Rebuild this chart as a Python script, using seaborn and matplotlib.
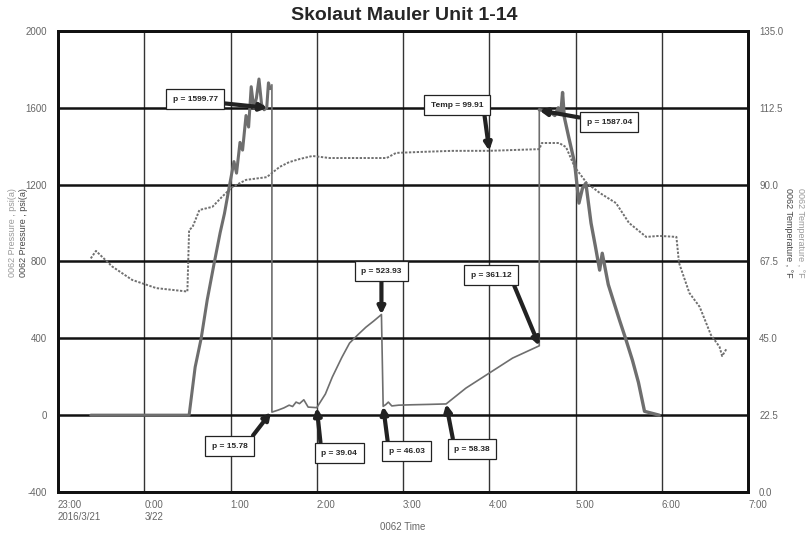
import matplotlib
matplotlib.use('Agg')
import matplotlib.pyplot as plt
import seaborn as sns

# time in hours after 0:00 on 2016/3/22 (23:00 of 3/21 = -1)
p_up_t = [-0.62, 0.52, 0.59, 0.66, 0.73, 0.81, 0.88, 0.93, 0.99, 1.04, 1.07, 1.11, 1.14,
          1.18, 1.21, 1.24, 1.27, 1.30, 1.33, 1.36, 1.39, 1.42, 1.44, 1.46]
p_up_v = [0, 0, 250, 400, 600, 790, 950, 1050, 1200, 1320, 1260, 1420, 1380,
          1560, 1500, 1710, 1600, 1650, 1750, 1620, 1590, 1600, 1730, 1700]

p_mid_t = [1.48, 1.48, 1.55, 1.62, 1.68, 1.72, 1.76, 1.80, 1.85, 1.90, 2.00, 2.10, 2.18,
           2.29, 2.38, 2.48, 2.57, 2.66, 2.75, 2.77, 2.80, 2.83, 2.87, 2.95, 3.10, 3.30,
           3.50, 3.73, 4.00, 4.27, 4.58, 4.58]
p_mid_v = [1720, 15.78, 26, 38, 52, 45, 68, 60, 80, 42, 39.04, 110, 198,
           300, 375, 420, 458, 490, 523.93, 46.03, 55, 68, 48, 52, 54, 56,
           58.38, 141, 219, 297, 361.12, 1590]

p_dn_t = [4.58, 4.70, 4.76, 4.80, 4.83, 4.85, 4.87, 4.92, 4.99, 5.04, 5.08, 5.12, 5.18,
          5.23, 5.28, 5.31, 5.38, 5.45, 5.51, 5.58, 5.66, 5.73, 5.80, 5.97]
p_dn_v = [1590, 1580, 1560, 1600, 1570, 1680, 1552, 1450, 1312, 1104, 1180, 1208, 1000,
          880, 755, 843, 680, 580, 495, 400, 286, 170, 20, 0]

temp_t = [-0.62, -0.56, -0.37, -0.14, 0.14, 0.50, 0.52, 0.56, 0.64, 0.79, 0.90, 1.02,
          1.18, 1.42, 1.48, 1.57, 1.68, 1.80, 1.95, 2.15, 2.81, 2.92, 3.22, 3.57, 4.00,
          4.58, 4.61, 4.81, 4.89, 4.99, 5.13, 5.28, 5.47, 5.62, 5.82, 5.97, 6.17, 6.20,
          6.32, 6.44, 6.57, 6.67, 6.70, 6.75]
temp_v = [68.4, 70.6, 66.0, 62.1, 59.7, 58.7, 76.7, 77.6, 82.6, 83.5, 86.4, 89.3,
          91.4, 92.2, 93.4, 95.2, 96.6, 97.5, 98.4, 97.8, 97.8, 99.3, 99.6, 99.9, 99.91,
          100.4, 102.2, 102.2, 101.0, 95.2, 90.5, 87.6, 84.6, 78.8, 74.7, 75.0, 74.7, 67.1,
          58.3, 54.2, 46.0, 42.5, 39.8, 41.9]

x_ticks = [-1, 0, 1, 2, 3, 4, 5, 6, 7]
x_labels = ['23:00\n2016/3/21', '0:00\n3/22', '1:00', '2:00', '3:00', '4:00', '5:00', '6:00', '7:00']
p_ticks = [-400, 0, 400, 800, 1200, 1600, 2000]
t_ticks = [0, 22.5, 45, 67.5, 90, 112.5, 135]

# (label, time, pressure, text time, text pressure, arrow start on box)
p_notes = [
    ('p = 1599.77', 1.43, 1599.77, 0.59, 1645, (1, 0)),
    ('p = 1587.04', 4.58, 1587.04, 5.39, 1525, (0, 1)),
    ('p = 523.93', 2.75, 523.93, 2.75, 750, (0.5, 0)),
    ('p = 361.12', 4.58, 361.12, 4.02, 729, (1, 0)),
    ('p = 15.78', 1.47, 15.78, 0.99, -161, (1, 1)),
    ('p = 39.04', 2.00, 39.04, 2.26, -198, (0, 1)),
    ('p = 46.03', 2.77, 46.03, 3.04, -188, (0, 1)),
    ('p = 58.38', 3.50, 58.38, 3.80, -177, (0, 1)),
]

sns.set_style('white')
plt.rcParams['font.family'] = ['Liberation Sans', 'DejaVu Sans']

fig = plt.figure(figsize=(8.09, 5.41), dpi=100)
ax = fig.add_axes([0.0717, 0.0906, 0.8529, 0.8521])
ax2 = ax.twinx()

grey = '#6e6e6e'
sns.lineplot(x=p_up_t, y=p_up_v, ax=ax, color=grey, lw=2.2, sort=False, estimator=None)
sns.lineplot(x=p_mid_t, y=p_mid_v, ax=ax, color=grey, lw=1.2, sort=False, estimator=None)
sns.lineplot(x=p_dn_t, y=p_dn_v, ax=ax, color=grey, lw=2.4, sort=False, estimator=None)
sns.lineplot(x=temp_t, y=temp_v, ax=ax2, color='#707070', lw=1.4, ls=(0, (1.2, 0.8)),
             sort=False, estimator=None)

ax.set_xlim(-1, 7)
ax.set_ylim(-400, 2000)
ax2.set_ylim(0, 135)
ax.set_xticks(x_ticks)
ax.set_xticklabels(x_labels, ha='left')
ax.set_yticks(p_ticks)
ax.set_yticklabels([str(v) for v in p_ticks])
ax2.set_yticks(t_ticks)
ax2.set_yticklabels(['%.1f' % v for v in t_ticks])

tick_col = '#666666'
ax.tick_params(axis='x', length=0, labelsize=7, labelcolor=tick_col, pad=6)
ax.tick_params(axis='y', length=0, labelsize=7, labelcolor=tick_col, pad=8)
ax2.tick_params(axis='y', length=0, labelsize=7, labelcolor=tick_col, pad=8)

ax.yaxis.grid(True, color='#111111', lw=1.8)
ax.xaxis.grid(True, color='#333333', lw=1.0)
ax.set_axisbelow(True)
ax2.grid(False)
for a in (ax, ax2):
    for s in a.spines.values():
        s.set_color('#111111')
        s.set_linewidth(2)

ax.set_xlabel('')
ax.set_ylabel('')
ax2.set_ylabel('')

fig.text(0.5, 0.955, 'Skolaut Mauler Unit 1-14', ha='center', va='bottom',
         fontsize=14, fontweight='bold')
fig.text(0.498, 0.016, '0062 Time', ha='center', va='bottom', fontsize=7, color=tick_col)
fig.text(0.015, 0.57, '0062 Pressure , psi(a)', rotation=90, ha='center', va='center',
         fontsize=6.5, color='#999999')
fig.text(0.029, 0.57, '0062 Pressure , psi(a)', rotation=90, ha='center', va='center',
         fontsize=6.5, color='#444444')
fig.text(0.975, 0.57, '0062 Temperature , °F', rotation=-90, ha='center', va='center',
         fontsize=6.5, color='#444444')
fig.text(0.989, 0.57, '0062 Temperature , °F', rotation=-90, ha='center', va='center',
         fontsize=6.5, color='#999999')

box = dict(boxstyle='square,pad=0.8', fc='white', ec='#222222', lw=0.9)
arrow = dict(arrowstyle='-|>,head_length=0.7,head_width=0.35', lw=3, color='#222222',
             shrinkA=0, shrinkB=0)
for label, t, p, tx, ty, rel in p_notes:
    ax.annotate(label, xy=(t, p), xytext=(tx, ty), ha='center', va='center',
                fontsize=6, fontweight='bold', bbox=box, zorder=5,
                arrowprops=dict(arrow, relpos=rel))

ax2.annotate('Temp = 99.91', xy=(4.0, 99.91), xytext=(3.63, 113.3), ha='center',
             va='center', fontsize=6, fontweight='bold', bbox=box, zorder=5,
             arrowprops=dict(arrow, relpos=(1, 0)))

fig.savefig('out.png', dpi=100)
